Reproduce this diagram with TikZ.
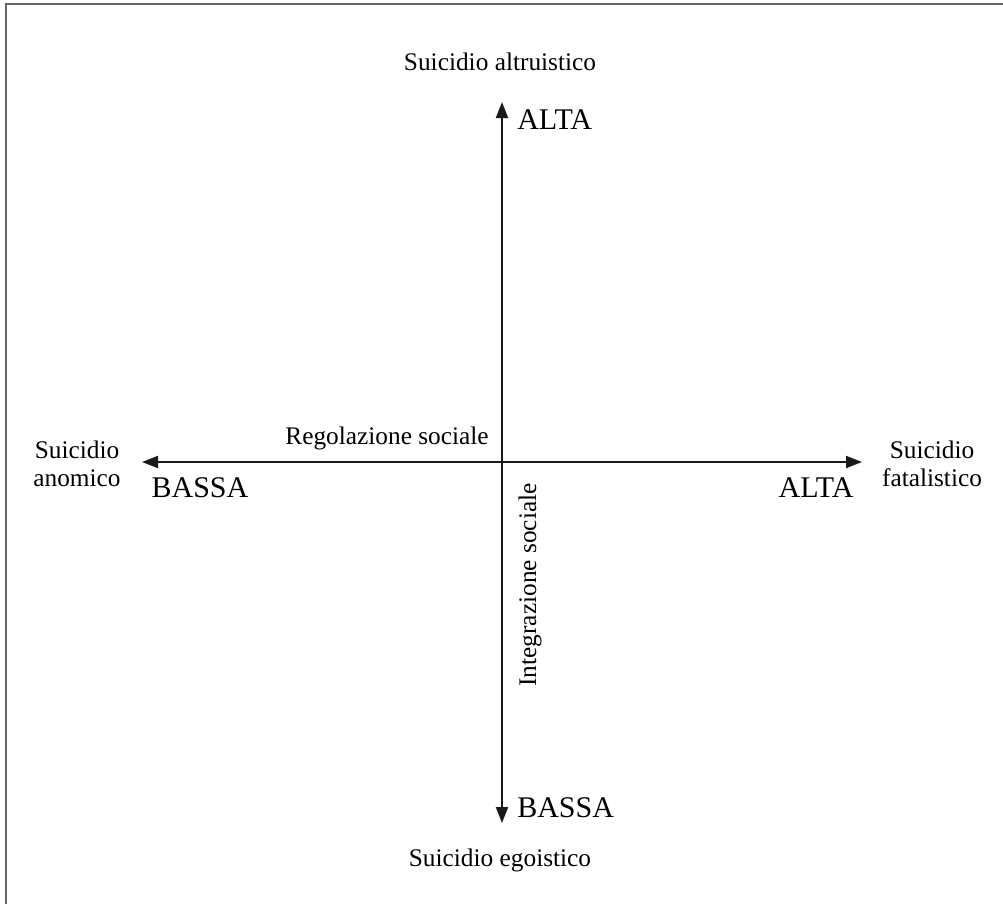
\documentclass[tikz,border=0pt]{standalone}
\usepackage{fontspec}
\setmainfont{Liberation Serif}
\usetikzlibrary{arrows.meta}

\begin{document}
\begin{tikzpicture}[x=0.75pt,y=-0.75pt]
\tikzset{
  caption/.style={inner sep=0pt,align=center,font=\fontsize{19}{21}\selectfont},
  level/.style={inner sep=0pt,font=\fontsize{22.5}{25}\selectfont},
  axis/.style={draw=black!90,line width=1.4pt,-{Triangle[length=12pt,width=9pt]}},
  frameline/.style={draw=black!60,line width=1.2pt}
}
\useasboundingbox (0,0) rectangle (1003,904);
% frame
\draw[frameline] (6,904) -- (6,4) -- (1003,4);
% axes
\coordinate (o) at (502,462);
\coordinate (top) at (502,102);
\coordinate (bot) at (502,823);
\coordinate (lft) at (142,462);
\coordinate (rgt) at (862,462);
\draw[axis] (o) -- (top);
\draw[axis] (o) -- (bot);
\draw[axis] (o) -- (lft);
\draw[axis] (o) -- (rgt);
% labels
\node[caption] (altr) at (500,62) {Suicidio altruistico};
\node[level,anchor=west] (altaN) at (517,120) {ALTA};
\node[caption] (reg) at (387,438) {Regolazione sociale};
\node[caption] (anom) at (77,464) {Suicidio\\anomico};
\node[level] (bassaW) at (200,488) {BASSA};
\node[level] (altaE) at (816,488) {ALTA};
\node[caption] (fatal) at (932,464) {Suicidio\\fatalistico};
\node[caption,rotate=90] (integ) at (530,585) {Integrazione sociale};
\node[level,anchor=west] (bassaS) at (517,808) {BASSA};
\node[caption] (ego) at (500,860) {Suicidio egoistico};
\end{tikzpicture}
\end{document}
